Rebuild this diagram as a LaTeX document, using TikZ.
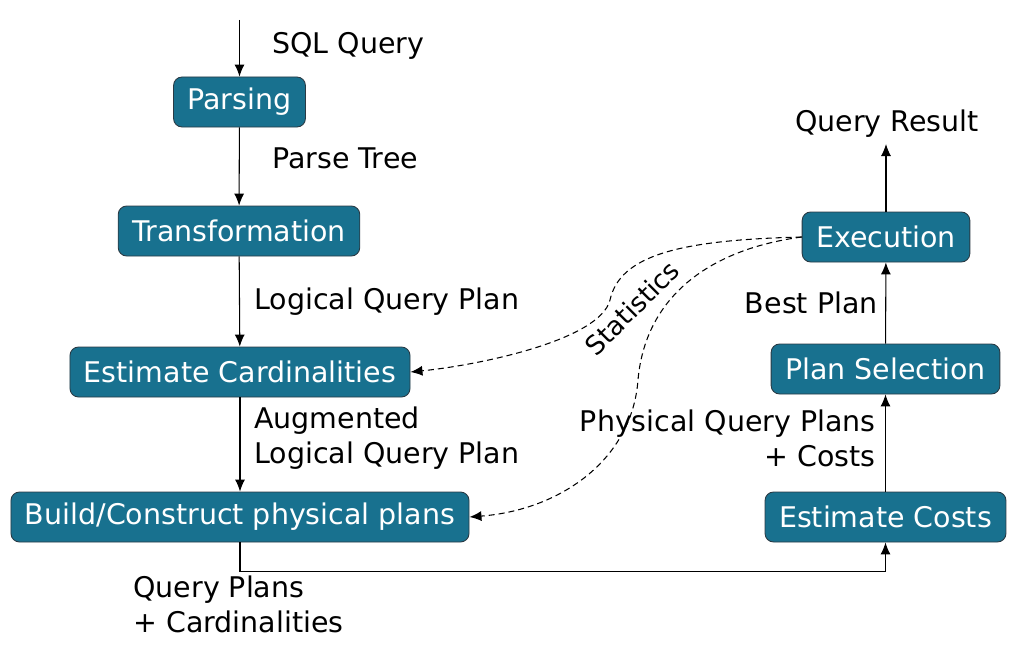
\documentclass[tikz,border=0pt]{standalone}
\usepackage{fontspec}
\setmainfont{DejaVu Sans}
\usetikzlibrary{arrows.meta}
\definecolor{boxfill}{HTML}{18718F}
\definecolor{boxline}{HTML}{2A3A44}
\tikzset{
    stepbox/.style={draw=boxline, fill=boxfill, text=white, rounded corners=0.17cm,
        minimum height=1cm, inner xsep=0.28cm, line width=0.5pt},
    lbl/.style={inner sep=0pt, align=left},
    flow/.style={-{Latex[length=2.4mm,width=2mm]}, line width=0.6pt},
    stat/.style={flow, dashed, dash pattern=on 1.2mm off 0.8mm}
}
\begin{document}
\begin{tikzpicture}[font=\fontsize{16.2}{20}\selectfont]
        \useasboundingbox (0,0) rectangle (20.48,-12.96);

        \node[stepbox] (parse) at (4.79,-2.04) {Parsing};
        \node[stepbox] (trans) at (4.78,-4.62) {Transformation};
        \node[stepbox] (card) at (4.80,-7.44) {Estimate Cardinalities};
        \node[stepbox] (build) at (4.80,-10.34) {Build/Construct physical plans};

        \node[stepbox] (cost) at (17.71,-10.34) {Estimate Costs};
        \node[stepbox] (select) at (17.71,-7.38) {Plan Selection};
        \node[stepbox] (exec) at (17.72,-4.74) {Execution};

        \coordinate (in) at (4.79,-0.40);
        \coordinate (out) at (17.72,-2.88);

        \draw[flow] (in) -- (parse);
        \draw[flow] (parse) -- (trans);
        \draw[flow] (trans) -- (card);
        \draw[flow] (card) -- (build);
        \draw[flow] (build.south) -- ++(0,-0.58) -| (cost.south);
        \draw[flow] (cost) -- (select);
        \draw[flow] (select) -- (exec);
        \draw[flow] (exec) -- (out);

        % statistics fed back from execution
        \draw[stat] (exec.west) .. controls (13.6,-4.80) and (12.4,-5.10) .. (12.2,-6.00)
            .. controls (12.0,-6.80) and (9.6,-7.30) .. (card.east);
        \draw[stat] (exec.west) .. controls (14.1,-5.00) and (12.9,-6.00) .. (12.76,-7.60)
            .. controls (12.64,-9.20) and (11.2,-10.20) .. (build.east);
        \node[rotate=45, font=\fontsize{15}{18}\selectfont] (statlbl) at (12.64,-6.16) {Statistics};

        \node[lbl, anchor=west] (sql) at (5.44,-0.92) {SQL Query};
        \node[lbl, anchor=west] (tree) at (5.44,-3.16) {Parse Tree};
        \node[lbl, anchor=west] (lqp) at (5.08,-6.04) {Logical Query Plan};
        \node[lbl, anchor=west] (alqp) at (5.08,-8.77) {Augmented\\Logical Query Plan};
        \node[lbl, anchor=west] (qpc) at (2.66,-12.09) {Query Plans\\+ Cardinalities};
        \node[lbl, align=right, anchor=east] (pqp) at (17.52,-8.77) {Physical Query Plans\\+ Costs};
        \node[lbl, anchor=east] (best) at (17.56,-6.06) {Best Plan};
        \node[lbl] (res) at (17.74,-2.48) {Query Result};
\end{tikzpicture}
\end{document}
